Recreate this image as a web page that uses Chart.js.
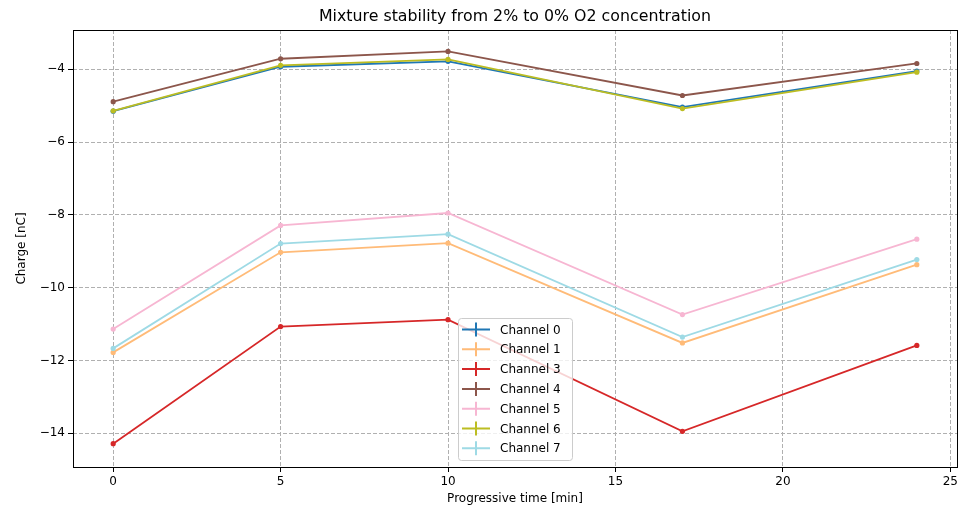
<!DOCTYPE html>
<html>
<head>
<meta charset="utf-8">
<script src="https://cdn.jsdelivr.net/npm/chart.js@4.4.1/dist/chart.umd.min.js"></script>
<style>
  html, body { margin: 0; padding: 0; background: #fff; }
  #wrap { width: 968px; height: 508px; position: relative; }
</style>
</head>
<body>
<div id="wrap"><canvas id="chart_mixture"></canvas></div>
<script>
// data
var times = [0, 5, 10, 17, 24];
var channel0 = [-5.15, -3.93, -3.78, -5.04, -4.05];
var channel1 = [-11.78, -9.03, -8.78, -11.52, -9.37];
var channel3 = [-14.29, -11.07, -10.88, -13.95, -11.59];
var channel4 = [-4.89, -3.71, -3.51, -4.72, -3.84];
var channel5 = [-11.14, -8.29, -7.95, -10.74, -8.67];
var channel6 = [-5.14, -3.89, -3.73, -5.08, -4.08];
var channel7 = [-11.67, -8.79, -8.53, -11.36, -9.23];
var xTicks = [0, 5, 10, 15, 20, 25];
var yTicks = [-14, -12, -10, -8, -6, -4];
var titleText = 'Mixture stability from 2% to 0% O2 concentration';

var series = [
  { label: 'Channel 0', values: channel0, color: '#1f77b4' },
  { label: 'Channel 1', values: channel1, color: '#ffbb78' },
  { label: 'Channel 3', values: channel3, color: '#d62728' },
  { label: 'Channel 4', values: channel4, color: '#8c564b' },
  { label: 'Channel 5', values: channel5, color: '#f7b6d2' },
  { label: 'Channel 6', values: channel6, color: '#bcbd22' },
  { label: 'Channel 7', values: channel7, color: '#9edae5' }
];

var FONT = 'DejaVu Sans';

function minusLabel(v) {
  return v < 0 ? '\u2212' + Math.abs(v) : String(v);
}

// frame, title over the axes and the legend in the lower middle
var frameAndLegend = {
  id: 'frameAndLegend',
  afterDraw: function (chart) {
    var ctx = chart.ctx;
    var a = chart.chartArea;
    ctx.save();
    ctx.strokeStyle = '#000';
    ctx.lineWidth = 1;
    ctx.setLineDash([]);
    ctx.strokeRect(Math.round(a.left) + 0.5, Math.round(a.top) + 0.5,
                   Math.round(a.right - a.left), Math.round(a.bottom - a.top));

    ctx.fillStyle = '#000';
    ctx.font = '15.8px "' + FONT + '"';
    ctx.textAlign = 'center';
    ctx.textBaseline = 'middle';
    ctx.fillText(titleText, (a.left + a.right) / 2, 17);

    var bx = 458.5, by = 318.5, bw = 114, bh = 142, r = 3;
    ctx.fillStyle = 'rgba(255,255,255,0.8)';
    ctx.strokeStyle = '#cccccc';
    ctx.beginPath();
    ctx.moveTo(bx + r, by);
    ctx.arcTo(bx + bw, by, bx + bw, by + bh, r);
    ctx.arcTo(bx + bw, by + bh, bx, by + bh, r);
    ctx.arcTo(bx, by + bh, bx, by, r);
    ctx.arcTo(bx, by, bx + bw, by, r);
    ctx.closePath();
    ctx.fill();
    ctx.stroke();

    ctx.font = '12px "' + FONT + '"';
    ctx.textAlign = 'left';
    chart.data.datasets.forEach(function (ds, i) {
      var cy = 329.5 + i * 19.8;
      ctx.strokeStyle = ds.borderColor;
      ctx.lineWidth = 2;
      ctx.beginPath();
      ctx.moveTo(462, cy);
      ctx.lineTo(490, cy);
      ctx.moveTo(476, cy - 7);
      ctx.lineTo(476, cy + 7);
      ctx.stroke();
      ctx.fillStyle = '#000';
      ctx.fillText(ds.label, 500, cy + 1);
    });
    ctx.restore();
  }
};

var datasets = series.map(function (s, i) {
  return {
    label: s.label,
    data: times.map(function (t, k) { return { x: t, y: s.values[k] }; }),
    borderColor: s.color,
    backgroundColor: s.color,
    borderWidth: 1.8,
    pointRadius: 2.6,
    pointHoverRadius: 2.6,
    pointBorderWidth: 0,
    tension: 0,
    order: -i
  };
});

var chart_mixture = new Chart(document.getElementById('chart_mixture'), {
  type: 'line',
  data: { datasets: datasets },
  options: {
    animation: false,
    responsive: true,
    maintainAspectRatio: false,
    layout: { padding: { left: 0, right: 11, top: 30, bottom: 0 } },
    plugins: {
      legend: { display: false },
      tooltip: { enabled: false },
      title: { display: false }
    },
    scales: {
      x: {
        type: 'linear',
        min: -1.2,
        max: 25.2,
        afterBuildTicks: function (scale) {
          scale.ticks = xTicks.map(function (v) { return { value: v }; });
        },
        afterFit: function (scale) { scale.height = 41; },
        ticks: {
          color: '#000',
          font: { family: FONT, size: 12 },
          padding: 3,
          maxRotation: 0,
          callback: function (v) { return minusLabel(v); }
        },
        grid: {
          color: '#b0b0b0',
          lineWidth: 1,
          tickColor: '#000',
          tickLength: 5,
          tickWidth: 1,
          tickBorderDash: []
        },
        border: { display: false, dash: [4, 2] },
        title: {
          display: true,
          text: 'Progressive time [min]',
          color: '#000',
          font: { family: FONT, size: 12 },
          padding: { top: 2, bottom: 2 }
        }
      },
      y: {
        type: 'linear',
        min: -14.93,
        max: -2.92,
        afterBuildTicks: function (scale) {
          scale.ticks = yTicks.map(function (v) { return { value: v }; });
        },
        afterFit: function (scale) { scale.width = 73; },
        ticks: {
          color: '#000',
          font: { family: FONT, size: 12 },
          padding: 3,
          callback: function (v) { return minusLabel(v); }
        },
        grid: {
          color: '#b0b0b0',
          lineWidth: 1,
          tickColor: '#000',
          tickLength: 5,
          tickWidth: 1,
          tickBorderDash: []
        },
        border: { display: false, dash: [4, 2] },
        title: {
          display: true,
          text: 'Charge [nC]',
          color: '#000',
          font: { family: FONT, size: 12 },
          padding: { top: 15, bottom: 0 }
        }
      }
    }
  },
  plugins: [frameAndLegend, {
    id: 'whiteBackground',
    beforeDraw: function (chart) {
      var ctx = chart.ctx;
      ctx.save();
      ctx.fillStyle = 'white';
      ctx.fillRect(0, 0, chart.width, chart.height);
      ctx.restore();
    }
  }]
});
</script>
</body>
</html>
